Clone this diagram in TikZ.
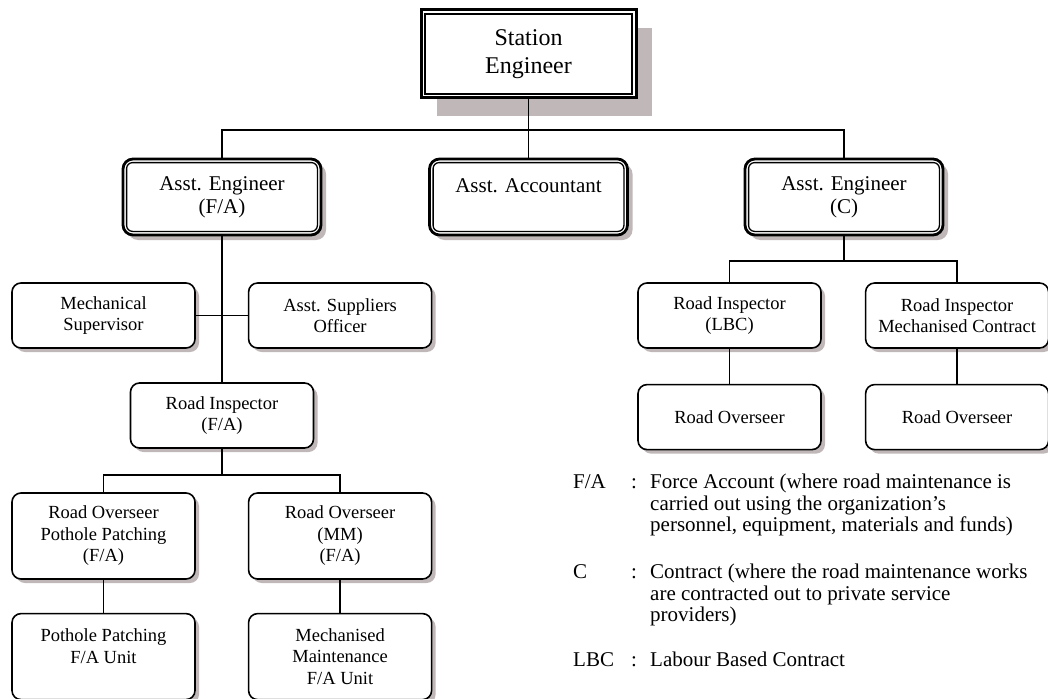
\documentclass[tikz,border=0pt]{standalone}
\usepackage{fontspec}
\setmainfont{Liberation Serif}
\usepackage{tikz}
\usetikzlibrary{positioning, shadows, calc}
\definecolor{shadowgray}{RGB}{192,184,184}
\tikzstyle{boxbase} = [rectangle, draw=black, fill=white, align=center, inner sep=2pt]
\tikzstyle{box} = [boxbase, rounded corners=9pt, line width=1.6pt, minimum width=183pt, minimum height=65pt, font=\fontsize{18.5}{21.5}\selectfont, drop shadow={shadow xshift=4pt, shadow yshift=-4pt, fill=shadowgray, opacity=1}]
\tikzstyle{tallbox} = [box, minimum height=86pt]
\tikzstyle{deputy} = [boxbase, rounded corners=10pt, line width=2.8pt, minimum width=198pt, minimum height=76pt, font=\fontsize{21}{23}\selectfont, drop shadow={shadow xshift=5pt, shadow yshift=-5pt, fill=shadowgray, opacity=1}]
\tikzstyle{head} = [boxbase, line width=3pt, minimum width=215pt, minimum height=88pt, font=\fontsize{24}{28}\selectfont, drop shadow={shadow xshift=16pt, shadow yshift=-18pt, fill=shadowgray, opacity=1}]
\tikzstyle{innerframe} = [line width=1.3pt]
\tikzstyle{wire} = [line width=1.5pt]

\begin{document}
\begin{tikzpicture}[x=1pt, y=-1pt]
    \useasboundingbox (0,0) rectangle (1048,698);

    % Top level
    \node[head] (station) at (528.5,54) {Station\\Engineer};

    % Second level
    \node[deputy] (aefa) at (222,197) {Asst. Engineer\\(F/A)};
    \node[deputy] (acct) at (528.5,197) {Asst. Accountant\\~};
    \node[deputy] (aec) at (844,197) {Asst. Engineer\\(C)};

    % Inner lines of the double frames
    \draw[innerframe] ($(station.south west)+(5.5pt,5.5pt)$) rectangle ($(station.north east)+(-5.5pt,-5.5pt)$);
    \foreach \n in {aefa,acct,aec}
        \draw[innerframe, rounded corners=6pt] ($(\n.south west)+(5pt,5pt)$) rectangle ($(\n.north east)+(-5pt,-5pt)$);

    % Force account branch
    \node[box] (mech) at (103.5,315.5) {Mechanical\\Supervisor};
    \node[box, right=52pt of mech] (supp) {Asst. Suppliers\\Officer};
    \node[box] (rifa) at (222,415.5) {Road Inspector\\(F/A)};
    \node[tallbox] (ropp) at (103.5,536) {Road Overseer\\Pothole Patching\\(F/A)};
    \node[tallbox, right=52pt of ropp] (romm) {Road Overseer\\(MM)\\(F/A)};
    \node[tallbox, below=33pt of ropp] (ppunit) {Pothole Patching\\F/A Unit\\~};
    \node[tallbox, below=33pt of romm] (mmunit) {Mechanised\\Maintenance\\F/A Unit};

    % Contract branch
    \node[box] (rilbc) at (729.5,315.5) {Road Inspector\\(LBC)};
    \node[box, right=43pt of rilbc] (rimc) {Road Inspector\\Mechanised Contract};
    \node[box, below=35pt of rilbc] (rolbc) {Road Overseer};
    \node[box, below=35pt of rimc] (romc) {Road Overseer};

    % Connections
    \coordinate (topbus) at (528.5,130);
    \draw[wire] (station) -- (topbus);
    \draw[wire] (aefa.north) |- (topbus) -| (aec.north);
    \draw[wire] (acct.north) -- (acct.north |- topbus);

    \draw[wire] (aefa) -- (rifa);
    \draw[wire] (mech) -- (supp);
    \coordinate (fabus) at (222,475);
    \draw[wire] (rifa) -- (fabus);
    \draw[wire] (ropp.north) |- (fabus) -| (romm.north);
    \draw[wire] (ropp) -- (ppunit);
    \draw[wire] (romm) -- (mmunit);

    \coordinate (cbus) at (844,261);
    \draw[wire] (aec) -- (cbus);
    \draw[wire] (rilbc.north) |- (cbus) -| (rimc.north);
    \draw[wire] (rilbc) -- (rolbc);
    \draw[wire] (rimc) -- (romc);

    % Legend
    \node[anchor=north west, inner sep=0pt, font=\fontsize{21}{21.7}\selectfont] (legend) at (573,473) {%
      \begin{tabular}{@{}p{58pt}@{}p{19pt}@{}l@{}}
        F/A & : & Force Account (where road maintenance is\\
            &   & carried out using the organization’s\\
            &   & personnel, equipment, materials and funds)\\[25pt]
        C   & : & Contract (where the road maintenance works\\
            &   & are contracted out to private service\\
            &   & providers)\\[23pt]
        LBC & : & Labour Based Contract
      \end{tabular}};
\end{tikzpicture}
\end{document}
